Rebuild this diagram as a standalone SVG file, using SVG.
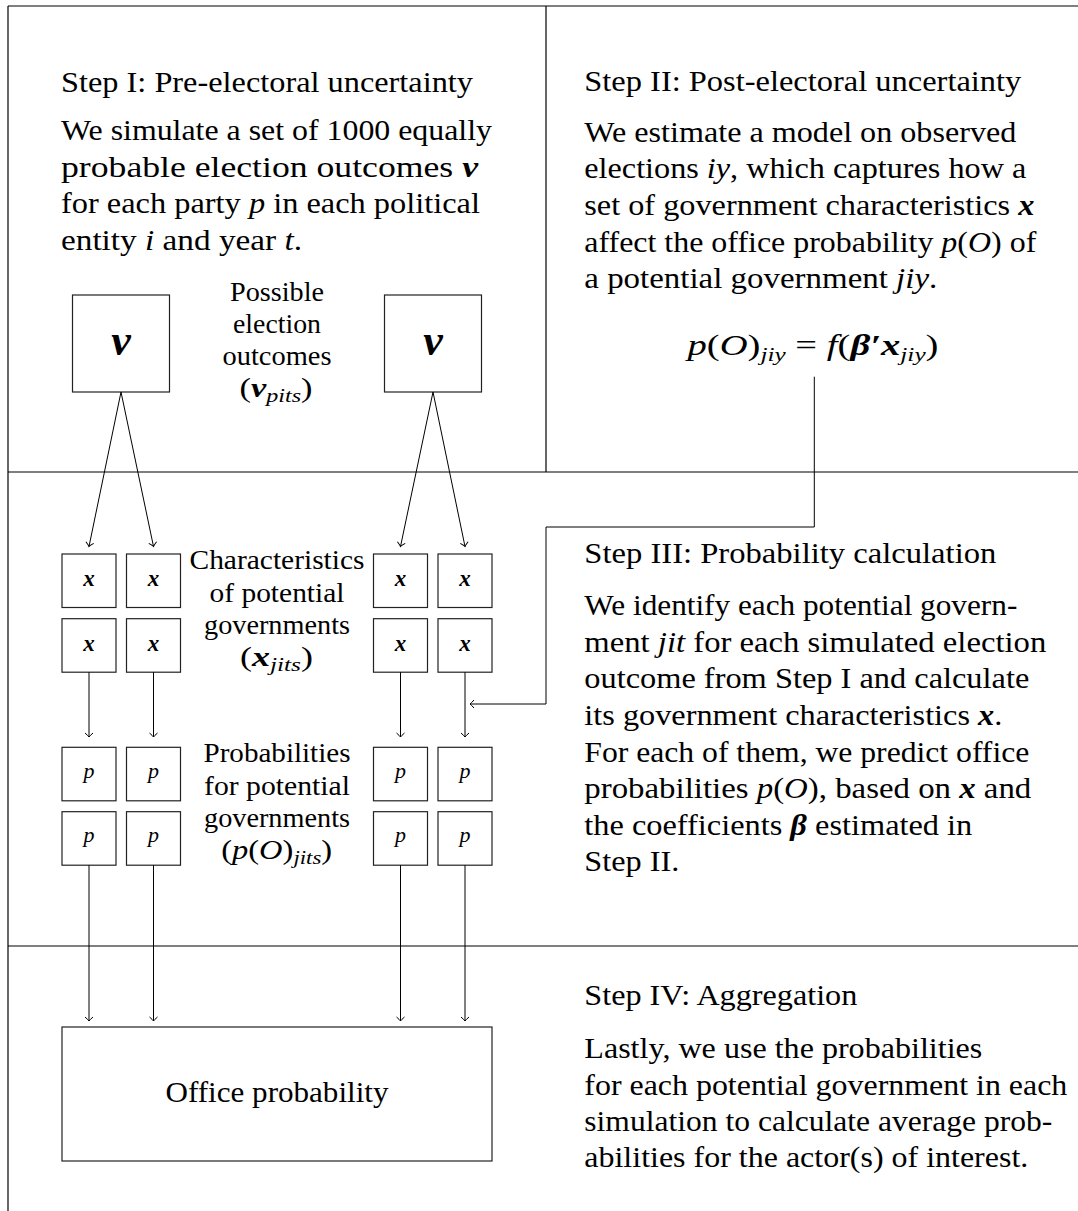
<svg xmlns="http://www.w3.org/2000/svg" width="1078" height="1211" viewBox="0 0 1078 1211">
<style>
  text { font-family: "Liberation Serif", "Times New Roman", serif; fill: #000; }
  .t { font-size: 29px; }
  .lab { font-size: 27px; text-anchor: middle; }
  .i { font-style: italic; }
  .b { font-style: italic; font-weight: bold; }
  .sub { font-size: 19px; font-style: italic; }
  .frame { stroke: #000; stroke-width: 1.2; fill: none; }
  .box { stroke: #222; stroke-width: 1.2; fill: #fff; }
  .conn { stroke: #000; stroke-width: 1; fill: none; }
  .bx { font-size: 23px; font-style: italic; font-weight: bold; text-anchor: middle; }
  .bp { font-size: 22px; font-style: italic; text-anchor: middle; }
</style>
<defs>
  <marker id="arr" markerUnits="userSpaceOnUse" markerWidth="12" markerHeight="12" viewBox="-6 -6 12 12" refX="0" refY="0" orient="auto" overflow="visible">
    <path d="M-4,-4 Q-1.2,-0.8 0,0 Q-1.2,0.8 -4,4" fill="none" stroke="#000" stroke-width="1"/>
  </marker>
</defs>
<rect width="1078" height="1211" fill="#fff"/>

<g id="frame" class="frame">
  <path d="M8,6 H1078"/>
  <path d="M8,6 V1211"/>
  <path d="M546,6 V472"/>
  <path d="M8,472 H1078"/>
  <path d="M8,946 H1078"/>
</g>

<g id="step1">
  <text class="t" x="61" y="91.7" textLength="412" lengthAdjust="spacingAndGlyphs">Step I: Pre-electoral uncertainty</text>
  <text class="t" x="61" y="140" textLength="431" lengthAdjust="spacingAndGlyphs">We simulate a set of 1000 equally</text>
  <text class="t" x="61" y="176.7" textLength="417" lengthAdjust="spacingAndGlyphs">probable election outcomes <tspan class="b">v</tspan></text>
  <text class="t" x="61" y="213.3" textLength="419" lengthAdjust="spacingAndGlyphs">for each party <tspan class="i">p</tspan> in each political</text>
  <text class="t" x="61" y="249.5" textLength="241" lengthAdjust="spacingAndGlyphs">entity <tspan class="i">i</tspan> and year <tspan class="i">t</tspan>.</text>
</g>

<g id="step2">
  <text class="t" x="584.3" y="90.7" textLength="437" lengthAdjust="spacingAndGlyphs">Step II: Post-electoral uncertainty</text>
  <text class="t" x="584.3" y="141.7" textLength="432" lengthAdjust="spacingAndGlyphs">We estimate a model on observed</text>
  <text class="t" x="584.3" y="178.3" textLength="442" lengthAdjust="spacingAndGlyphs">elections <tspan class="i">iy</tspan>, which captures how a</text>
  <text class="t" x="584.3" y="215" textLength="450" lengthAdjust="spacingAndGlyphs">set of government characteristics <tspan class="b">x</tspan></text>
  <text class="t" x="584.3" y="251.7" textLength="452" lengthAdjust="spacingAndGlyphs">affect the office probability <tspan class="i">p</tspan>(<tspan class="i">O</tspan>) of</text>
  <text class="t" x="584.3" y="288.3" textLength="353" lengthAdjust="spacingAndGlyphs">a potential government <tspan class="i">jiy</tspan>.</text>
  <text class="t" x="813" y="355" text-anchor="middle" textLength="251" lengthAdjust="spacingAndGlyphs"><tspan class="i">p</tspan>(<tspan class="i">O</tspan>)<tspan class="sub" dy="6">jiy</tspan><tspan dy="-6"> = </tspan><tspan class="i">f</tspan>(<tspan class="b">β′x</tspan><tspan class="sub" dy="6">jiy</tspan><tspan dy="-6">)</tspan></text>
</g>

<g id="step3">
  <text class="t" x="584.3" y="562.7" textLength="412" lengthAdjust="spacingAndGlyphs">Step III: Probability calculation</text>
  <text class="t" x="584.3" y="615" textLength="433" lengthAdjust="spacingAndGlyphs">We identify each potential govern-</text>
  <text class="t" x="584.3" y="651.7" textLength="462" lengthAdjust="spacingAndGlyphs">ment <tspan class="i">jit</tspan> for each simulated election</text>
  <text class="t" x="584.3" y="688.3" textLength="445" lengthAdjust="spacingAndGlyphs">outcome from Step I and calculate</text>
  <text class="t" x="584.3" y="725" textLength="418" lengthAdjust="spacingAndGlyphs">its government characteristics <tspan class="b">x</tspan>.</text>
  <text class="t" x="584.3" y="761.7" textLength="445" lengthAdjust="spacingAndGlyphs">For each of them, we predict office</text>
  <text class="t" x="584.3" y="798.3" textLength="447" lengthAdjust="spacingAndGlyphs">probabilities <tspan class="i">p</tspan>(<tspan class="i">O</tspan>), based on <tspan class="b">x</tspan> and</text>
  <text class="t" x="584.3" y="835" textLength="388" lengthAdjust="spacingAndGlyphs">the coefficients <tspan class="b">β</tspan> estimated in</text>
  <text class="t" x="584.3" y="870.7" textLength="95" lengthAdjust="spacingAndGlyphs">Step II.</text>
</g>

<g id="step4">
  <text class="t" x="584.3" y="1005" textLength="273" lengthAdjust="spacingAndGlyphs">Step IV: Aggregation</text>
  <text class="t" x="584.3" y="1058.3" textLength="398" lengthAdjust="spacingAndGlyphs">Lastly, we use the probabilities</text>
  <text class="t" x="584.3" y="1095" textLength="483" lengthAdjust="spacingAndGlyphs">for each potential government in each</text>
  <text class="t" x="584.3" y="1131" textLength="468" lengthAdjust="spacingAndGlyphs">simulation to calculate average prob-</text>
  <text class="t" x="584.3" y="1166.7" textLength="444" lengthAdjust="spacingAndGlyphs">abilities for the actor(s) of interest.</text>
</g>

<g id="label-outcomes">
  <text class="lab" x="277" y="300.7" textLength="94" lengthAdjust="spacingAndGlyphs">Possible</text>
  <text class="lab" x="277" y="332.7" textLength="88" lengthAdjust="spacingAndGlyphs">election</text>
  <text class="lab" x="277" y="365" textLength="109" lengthAdjust="spacingAndGlyphs">outcomes</text>
  <text class="lab" x="276" y="396.7" textLength="73" lengthAdjust="spacingAndGlyphs">(<tspan class="b">v</tspan><tspan class="sub" dy="5">pits</tspan><tspan dy="-5">)</tspan></text>
</g>

<g id="label-characteristics">
  <text class="lab" x="277" y="569.3" textLength="175" lengthAdjust="spacingAndGlyphs">Characteristics</text>
  <text class="lab" x="277" y="601.7" textLength="135" lengthAdjust="spacingAndGlyphs">of potential</text>
  <text class="lab" x="277" y="634" textLength="146" lengthAdjust="spacingAndGlyphs">governments</text>
  <text class="lab" x="276.5" y="666" textLength="73" lengthAdjust="spacingAndGlyphs">(<tspan class="b">x</tspan><tspan class="sub" dy="5">jits</tspan><tspan dy="-5">)</tspan></text>
</g>

<g id="label-probabilities">
  <text class="lab" x="277" y="762.3" textLength="147" lengthAdjust="spacingAndGlyphs">Probabilities</text>
  <text class="lab" x="277" y="795" textLength="146" lengthAdjust="spacingAndGlyphs">for potential</text>
  <text class="lab" x="277" y="827.3" textLength="146" lengthAdjust="spacingAndGlyphs">governments</text>
  <text class="lab" x="276.7" y="859.3" textLength="111" lengthAdjust="spacingAndGlyphs">(<tspan class="i">p</tspan>(<tspan class="i">O</tspan>)<tspan class="sub" dy="5">jits</tspan><tspan dy="-5">)</tspan></text>
</g>

<g id="v-box-1">
  <rect class="box" x="72.5" y="295" width="97" height="97"/>
  <text x="121" y="355" font-size="44" font-style="italic" font-weight="bold" text-anchor="middle">v</text>
</g>
<g id="v-box-2">
  <rect class="box" x="384.5" y="295" width="97" height="97"/>
  <text x="433" y="355" font-size="44" font-style="italic" font-weight="bold" text-anchor="middle">v</text>
</g>

<g id="x-box-1-1"><rect class="box" x="62" y="554" width="54" height="53.5"/><text class="bx" x="89" y="586">x</text></g>
<g id="x-box-1-2"><rect class="box" x="126.5" y="554" width="54" height="53.5"/><text class="bx" x="153.5" y="586">x</text></g>
<g id="x-box-1-3"><rect class="box" x="373.5" y="554" width="54" height="53.5"/><text class="bx" x="400.5" y="586">x</text></g>
<g id="x-box-1-4"><rect class="box" x="438" y="554" width="54" height="53.5"/><text class="bx" x="465" y="586">x</text></g>
<g id="x-box-2-1"><rect class="box" x="62" y="618.7" width="54" height="53.5"/><text class="bx" x="89" y="650.7">x</text></g>
<g id="x-box-2-2"><rect class="box" x="126.5" y="618.7" width="54" height="53.5"/><text class="bx" x="153.5" y="650.7">x</text></g>
<g id="x-box-2-3"><rect class="box" x="373.5" y="618.7" width="54" height="53.5"/><text class="bx" x="400.5" y="650.7">x</text></g>
<g id="x-box-2-4"><rect class="box" x="438" y="618.7" width="54" height="53.5"/><text class="bx" x="465" y="650.7">x</text></g>

<g id="p-box-1-1"><rect class="box" x="62" y="747.3" width="54" height="53.5"/><text class="bp" x="89" y="777.5">p</text></g>
<g id="p-box-1-2"><rect class="box" x="126.5" y="747.3" width="54" height="53.5"/><text class="bp" x="153.5" y="777.5">p</text></g>
<g id="p-box-1-3"><rect class="box" x="373.5" y="747.3" width="54" height="53.5"/><text class="bp" x="400.5" y="777.5">p</text></g>
<g id="p-box-1-4"><rect class="box" x="438" y="747.3" width="54" height="53.5"/><text class="bp" x="465" y="777.5">p</text></g>
<g id="p-box-2-1"><rect class="box" x="62" y="811.7" width="54" height="53.5"/><text class="bp" x="89" y="842">p</text></g>
<g id="p-box-2-2"><rect class="box" x="126.5" y="811.7" width="54" height="53.5"/><text class="bp" x="153.5" y="842">p</text></g>
<g id="p-box-2-3"><rect class="box" x="373.5" y="811.7" width="54" height="53.5"/><text class="bp" x="400.5" y="842">p</text></g>
<g id="p-box-2-4"><rect class="box" x="438" y="811.7" width="54" height="53.5"/><text class="bp" x="465" y="842">p</text></g>

<g id="office">
  <rect class="box" x="62" y="1027" width="430" height="134"/>
  <text class="t" x="277" y="1101.7" text-anchor="middle" textLength="223" lengthAdjust="spacingAndGlyphs">Office probability</text>
</g>

<g id="connectors" class="conn" marker-end="url(#arr)">
  <path d="M121,392 L89,546.5"/>
  <path d="M121,392 L153.5,546.5"/>
  <path d="M433,392 L400.5,546.5"/>
  <path d="M433,392 L465,546.5"/>
  <path d="M89,672.2 V737"/>
  <path d="M153.5,672.2 V737"/>
  <path d="M400.5,672.2 V737"/>
  <path d="M465,672.2 V737"/>
  <path d="M89,865.2 V1021"/>
  <path d="M153.5,865.2 V1021"/>
  <path d="M400.5,865.2 V1021"/>
  <path d="M465,865.2 V1021"/>
  <path d="M814.3,376.7 V527 H546 V704 H470"/>
</g>
</svg>
